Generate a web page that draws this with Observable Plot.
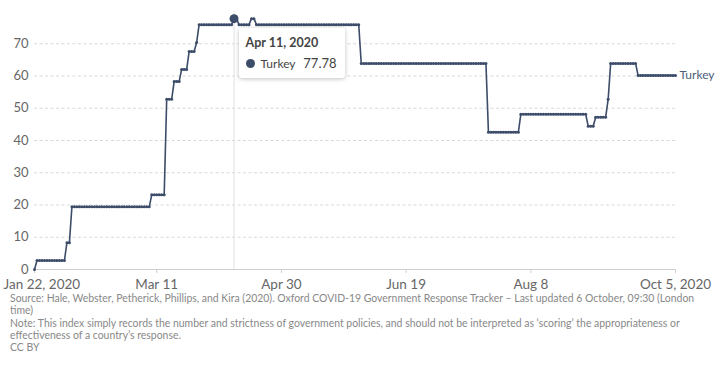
<!DOCTYPE html>
<html><head><meta charset="utf-8">
<script src="https://cdn.jsdelivr.net/npm/d3@7"></script>
<script src="https://cdn.jsdelivr.net/npm/@observablehq/plot@0.6"></script>
<style>
body{margin:0;background:#fff;font-family:Lato,sans-serif;}
#wrap{position:relative;width:720px;height:368px;overflow:hidden;}
#chart svg{display:block;overflow:visible;}
.footer{font-family:Lato,sans-serif;font-size:10.45px;line-height:12.3px;color:#888;padding-left:10px;white-space:nowrap;margin-top:-6px;}
.tip{position:absolute;background:#fff;box-shadow:0 1px 4px rgba(0,0,0,0.25);border-radius:3px;}
.tip span{position:absolute;white-space:nowrap;}
</style></head>
<body><div id="wrap"><div id="chart"></div><div class="footer" id="footer"></div></div>
<script>
// ---- data ----
const entity = "Turkey";
const startDate = "2020-01-22";
// daily stringency index values from Jan 22, 2020 to Oct 5, 2020
const values = [
  0,
  2.78,2.78,2.78,2.78,2.78,2.78,2.78,2.78,2.78,2.78,2.78,2.78,
  8.33,8.33,
  19.44,19.44,19.44,19.44,19.44,19.44,19.44,19.44,19.44,19.44,
  19.44,19.44,19.44,19.44,19.44,19.44,19.44,19.44,19.44,19.44,
  19.44,19.44,19.44,19.44,19.44,19.44,19.44,19.44,19.44,19.44,
  19.44,19.44,
  23.15,23.15,23.15,23.15,23.15,23.15,
  52.78,52.78,52.78,
  58.33,58.33,58.33,
  62.04,62.04,62.04,
  67.59,67.59,67.59,
  70.37,
  75.93,75.93,75.93,75.93,75.93,75.93,75.93,75.93,75.93,75.93,75.93,75.93,75.93,75.93,
  77.78,77.78,
  75.93,75.93,75.93,75.93,75.93,
  77.78,77.78,
  75.93,75.93,75.93,75.93,75.93,75.93,75.93,75.93,75.93,75.93,
  75.93,75.93,75.93,75.93,75.93,75.93,75.93,75.93,75.93,75.93,
  75.93,75.93,75.93,75.93,75.93,75.93,75.93,75.93,75.93,75.93,
  75.93,75.93,75.93,75.93,75.93,75.93,75.93,75.93,75.93,75.93,
  75.93,75.93,
  63.89,63.89,63.89,63.89,63.89,63.89,63.89,63.89,63.89,63.89,
  63.89,63.89,63.89,63.89,63.89,63.89,63.89,63.89,63.89,63.89,
  63.89,63.89,63.89,63.89,63.89,63.89,63.89,63.89,63.89,63.89,
  63.89,63.89,63.89,63.89,63.89,63.89,63.89,63.89,63.89,63.89,
  63.89,63.89,63.89,63.89,63.89,63.89,63.89,63.89,63.89,63.89,
  63.89,
  42.59,42.59,42.59,42.59,42.59,42.59,42.59,42.59,42.59,42.59,42.59,42.59,42.59,
  48.15,48.15,48.15,48.15,48.15,48.15,48.15,48.15,48.15,48.15,
  48.15,48.15,48.15,48.15,48.15,48.15,48.15,48.15,48.15,48.15,
  48.15,48.15,48.15,48.15,48.15,48.15,48.15,
  44.44,44.44,44.44,
  47.22,47.22,47.22,47.22,47.22,
  52.78,
  63.89,63.89,63.89,63.89,63.89,63.89,63.89,63.89,63.89,63.89,63.89,
  60.19,60.19,60.19,60.19,60.19,60.19,60.19,60.19,60.19,60.19,
  60.19,60.19,60.19,60.19,60.19,60.19
];
const xTickDates = ["2020-01-22","2020-03-11","2020-04-30","2020-06-19","2020-08-08","2020-10-05"];
const xTickLabels = ["Jan 22, 2020","Mar 11","Apr 30","Jun 19","Aug 8","Oct 5, 2020"];
const yTicks = [0,10,20,30,40,50,60,70];
const hoverDate = "2020-04-11";
const hoverLabel = "Apr 11, 2020";
const hoverValue = 77.78;
const footerLines = [
  "Source: Hale, Webster, Petherick, Phillips, and Kira (2020). Oxford COVID-19 Government Response Tracker – Last updated 6 October, 09:30 (London",
  "time)",
  "Note: This index simply records the number and strictness of government policies, and should not be interpreted as ‘scoring’ the appropriateness or",
  "effectiveness of a country’s response.",
  "CC BY"
];

// ---- build ----
const parse = s => new Date(s + "T00:00:00Z");
const t0 = parse(startDate);
const data = values.map((v, i) => ({date: d3.utcDay.offset(t0, i), value: v}));
const last = data[data.length - 1];
const ticks = xTickDates.map((d, i) => ({date: parse(d), label: xTickLabels[i]}));
const hover = {date: parse(hoverDate), value: hoverValue};
const lineColor = "#3c4c69";

const chart = Plot.plot({
  width: 720, height: 298,
  marginLeft: 34, marginRight: 45, marginTop: 11, marginBottom: 29,
  style: {fontFamily: "Lato, sans-serif", color: "#666", background: "transparent", overflow: "visible"},
  x: {type: "utc", domain: [ticks[0].date, ticks[ticks.length - 1].date], axis: null},
  y: {domain: [0, 80], axis: null},
  marks: [
    Plot.ruleY(yTicks.filter(d => d > 0), {stroke: "#d9d9d9", strokeDasharray: "3,2.5"}),
    Plot.ruleY([0], {stroke: "#cfcfcf"}),
    Plot.ruleX([hover], {x: "date", stroke: "#e2e2e2", strokeWidth: 1}),
    Plot.axisY(yTicks, {tickSize: 0, tickPadding: 6, fontSize: 13, fill: "#666", label: null}),
    Plot.axisX(ticks.map(d => d.date), {tickSize: 4, tickFormat: () => "", stroke: "#cfcfcf", label: null}),
    Plot.text(ticks.slice(0, 1), {x: "date", text: "label", frameAnchor: "bottom", lineAnchor: "middle", dy: 15, dx: -31, textAnchor: "start", fontSize: 13.5, fill: "#666"}),
    Plot.text(ticks.slice(1), {x: "date", text: "label", frameAnchor: "bottom", lineAnchor: "middle", dy: 15, textAnchor: "middle", fontSize: 13.5, fill: "#666"}),
    Plot.line(data, {x: "date", y: "value", stroke: lineColor, strokeWidth: 1.6}),
    Plot.dot(data, {x: "date", y: "value", r: 1.5, fill: lineColor}),
    Plot.dot([hover], {x: "date", y: "value", r: 4.5, fill: lineColor}),
    Plot.text([last], {x: "date", y: "value", text: () => entity, dx: 4, textAnchor: "start", fontSize: 12, fill: "#4d5d7a"})
  ]
});
document.getElementById("chart").appendChild(chart);

// tooltip positioned with the chart's scales
const hx = chart.scale("x").apply(hover.date);
const tip = document.createElement("div");
tip.className = "tip";
tip.style.left = (hx + 5) + "px";
tip.style.top = "28px";
tip.style.width = "106px";
tip.style.height = "50px";
tip.innerHTML =
  `<span style="left:7px;top:7px;font-size:12.5px;font-weight:700;color:#444">${hoverLabel}</span>` +
  `<span style="left:7px;top:31px;width:9px;height:9px;border-radius:50%;background:${lineColor}"></span>` +
  `<span style="left:22px;top:28px;font-size:12px;color:#444">${entity}</span>` +
  `<span style="right:8px;top:27px;font-size:13px;color:#444">${hoverValue.toFixed(2)}</span>`;
document.getElementById("wrap").appendChild(tip);

document.getElementById("footer").innerHTML = footerLines.join("<br>");
</script>
</body></html>
